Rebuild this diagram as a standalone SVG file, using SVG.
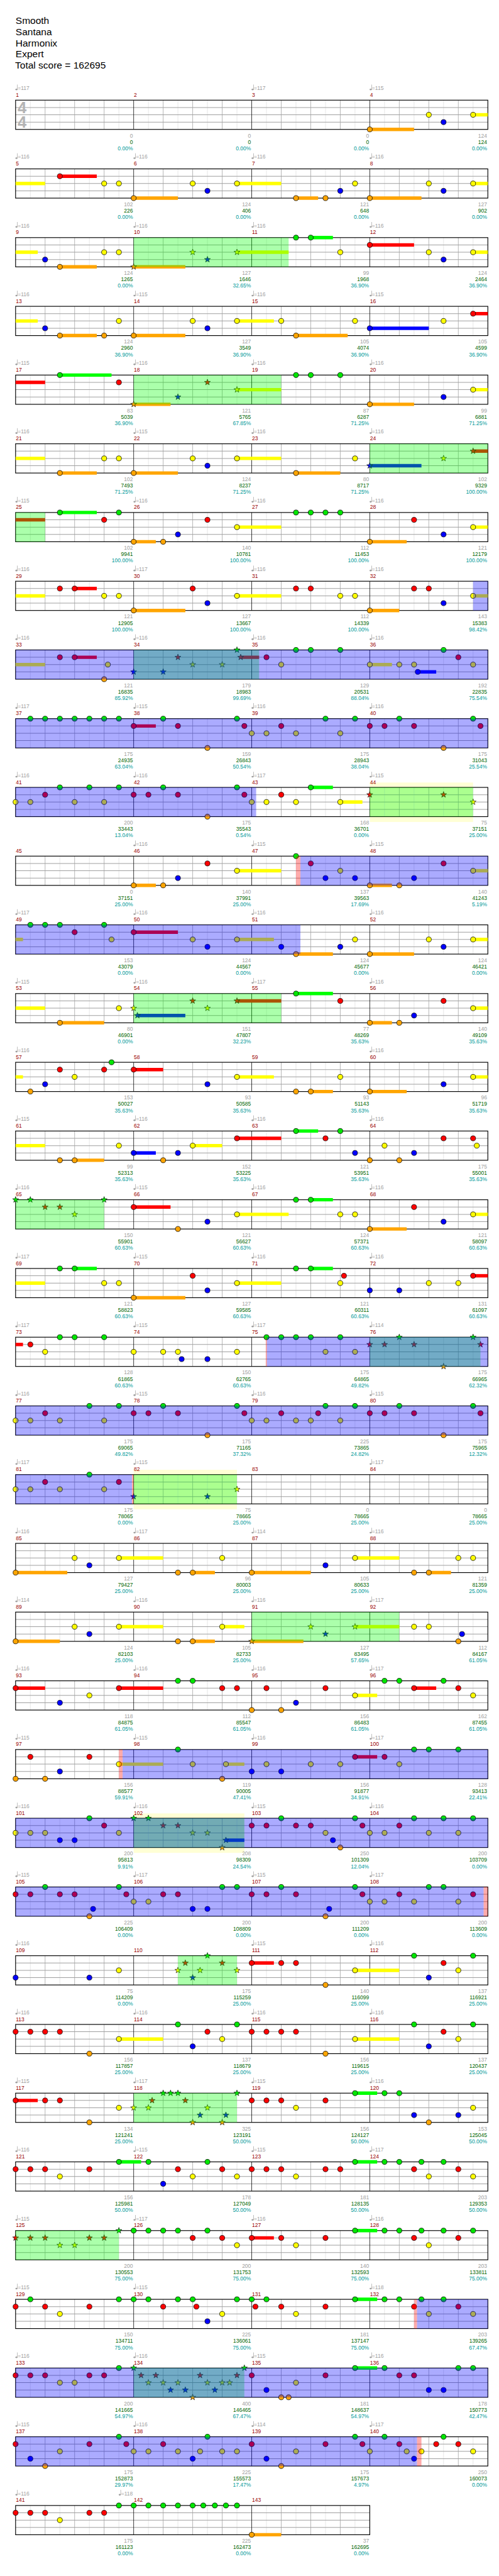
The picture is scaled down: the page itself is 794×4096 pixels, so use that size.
<svg xmlns="http://www.w3.org/2000/svg" xmlns:xlink="http://www.w3.org/1999/xlink" width="794" height="4096" viewBox="0 0 794 4096">
<style>
text{font-family:"Liberation Sans",Arial,sans-serif;font-size:11px}
.h{font-size:20px;fill:#000}
.ts{font-size:33px;font-weight:bold;fill:#b4b4b4}
.t{fill:#a0a0a0}
.m{fill:#900}
.a{fill:#a0a0a0;text-anchor:end}
.b{fill:#060;text-anchor:end}
.c{fill:#099;text-anchor:end}
.zg,.zr,.zy,.zb,.zo{stroke-width:7;fill:none}
.zg{stroke:#0f0}.zr{stroke:#f00}.zy{stroke:#ff0}.zb{stroke:#00f}.zo{stroke:#ffa500}
.sp{fill:#0f0;fill-opacity:.33}
.od{fill:#00f;fill-opacity:.33}
.pk{fill:#f00;fill-opacity:.33}
.hl{fill:#ffffd5}
</style>
<defs>
<circle id="g" cy="0" r="5.2" fill="#00e600" stroke="#000"/>
<circle id="r" cy="15" r="5.2" fill="#f00" stroke="#000"/>
<circle id="y" cy="30" r="5.2" fill="#ff0" stroke="#000"/>
<circle id="b" cy="45" r="5.2" fill="#00f" stroke="#000"/>
<circle id="o" cy="60" r="5.2" fill="#ffa500" stroke="#000"/>
<path id="st" d="M0-6.5L1.53-2.1 6.18-2.01 2.47.8 3.82 5.26 0 2.6-3.82 5.26-2.47.8-6.18-2.01-1.53-2.1Z" stroke="#000" stroke-width=".8"/>
<use id="sg" href="#st" fill="#00e600"/>
<use id="sr" href="#st" y="15" fill="#f00"/>
<use id="sy" href="#st" y="30" fill="#ff0"/>
<use id="sb" href="#st" y="45" fill="#00f"/>
<use id="so" href="#st" y="60" fill="#ffa500"/>
<g id="tn" fill="#a0a0a0"><ellipse cx="1.8" cy="-22" rx="2.2" ry="1.7"/><rect x="3.3" y="-32" width="0.9" height="10"/></g>
<g id="G4">
<path d="M62.3 0V60M122.9 0V60M183.5 0V60M244.1 0V60M304.7 0V60M365.3 0V60M425.9 0V60M486.5 0V60M547.1 0V60M607.7 0V60M668.3 0V60M728.9 0V60M789.5 0V60M850.1 0V60M910.7 0V60M971.3 0V60" stroke="#e0e0e0"/>
<path d="M92.6 0V60M153.2 0V60M213.8 0V60M335 0V60M395.6 0V60M456.2 0V60M577.4 0V60M638 0V60M698.6 0V60M819.8 0V60M880.4 0V60M941 0V60" stroke="#a0a0a0"/>
<path d="M32 15H1001.6M32 30H1001.6M32 45H1001.6" stroke="#a0a0a0" stroke-width="1.3"/>
<path d="M274.4 0V60M516.8 0V60M759.2 0V60" stroke="#000"/>
<rect x="32" width="969.6" height="60" fill="none" stroke="#000" stroke-width="1.5"/>
</g>
<g id="G3">
<path d="M62.3 0V60M122.9 0V60M183.5 0V60M244.1 0V60M304.7 0V60M365.3 0V60M425.9 0V60M486.5 0V60M547.1 0V60M607.7 0V60M668.3 0V60M728.9 0V60" stroke="#e0e0e0"/>
<path d="M92.6 0V60M153.2 0V60M213.8 0V60M335 0V60M395.6 0V60M456.2 0V60M577.4 0V60M638 0V60M698.6 0V60" stroke="#a0a0a0"/>
<path d="M32 15H759.2M32 30H759.2M32 45H759.2" stroke="#a0a0a0" stroke-width="1.3"/>
<path d="M274.4 0V60M516.8 0V60" stroke="#000"/>
<rect x="32" width="727.2" height="60" fill="none" stroke="#000" stroke-width="1.5"/>
</g>
</defs>
<rect width="794" height="4096" fill="#fff"/>
<g transform="scale(0.775)">
<g id="title">
<text class="h" x="32" y="49">Smooth</text>
<text class="h" x="32" y="72">Santana</text>
<text class="h" x="32" y="95">Harmonix</text>
<text class="h" x="32" y="118">Expert</text>
<text class="h" x="31" y="141">Total score = 162695</text>
</g>

<g id="row1" transform="translate(0 205.5)">
<use href="#G4"/>
<text class="ts" x="36" y="26.5">4</text><text class="ts" x="36" y="56.5">4</text>
<path class="zo" d="M759.2 60H850.1"/><path class="zy" d="M971.3 30H1001.6"/>
<use href="#o" x="759.2"/><use href="#y" x="880.4"/><use href="#b" x="910.7"/><use href="#y" x="971.3"/>
<g class="t"><use href="#tn" x="32"/><use href="#tn" x="516.8"/><use href="#tn" x="759.2"/><text y="-21"><tspan x="36.5">=117</tspan><tspan x="521.3">=117</tspan><tspan x="763.7">=115</tspan></text></g>
<text class="m" y="-7"><tspan x="32.5">1</tspan><tspan x="274.9">2</tspan><tspan x="517.3">3</tspan><tspan x="759.7">4</tspan></text>
<text class="a" y="76.5"><tspan x="272.9">0</tspan><tspan x="515.3">0</tspan><tspan x="757.7">0</tspan><tspan x="1000.1">124</tspan></text>
<text class="b" y="89.5"><tspan x="272.9">0</tspan><tspan x="515.3">0</tspan><tspan x="757.7">0</tspan><tspan x="1000.1">124</tspan></text>
<text class="c" y="102.5"><tspan x="272.9">0.00%</tspan><tspan x="515.3">0.00%</tspan><tspan x="757.7">0.00%</tspan><tspan x="1000.1">0.00%</tspan></text>
</g>

<g id="row2" transform="translate(0 346.5)">
<use href="#G4"/>
<path class="zy" d="M32 30H92.6M486.5 30H577.4M971.3 30H1001.6"/><path class="zr" d="M122.9 15H198.7"/><path class="zo" d="M274.4 60H365.3M607.7 60H653.2M759.2 60H865.3"/>
<use href="#r" x="122.9"/><use href="#y" x="213.8"/><use href="#y" x="244.1"/><use href="#o" x="274.4"/><use href="#y" x="395.6"/><use href="#b" x="425.9"/><use href="#y" x="486.5"/><use href="#o" x="607.7"/><use href="#o" x="668.3"/><use href="#b" x="698.6"/><use href="#y" x="728.9"/><use href="#o" x="759.2"/><use href="#y" x="880.4"/><use href="#b" x="910.7"/><use href="#y" x="971.3"/>
<g class="t"><use href="#tn" x="32"/><use href="#tn" x="274.4"/><use href="#tn" x="516.8"/><use href="#tn" x="759.2"/><text y="-21"><tspan x="36.5">=116</tspan><tspan x="278.9">=116</tspan><tspan x="521.3">=116</tspan><tspan x="763.7">=116</tspan></text></g>
<text class="m" y="-7"><tspan x="32.5">5</tspan><tspan x="274.9">6</tspan><tspan x="517.3">7</tspan><tspan x="759.7">8</tspan></text>
<text class="a" y="76.5"><tspan x="272.9">102</tspan><tspan x="515.3">124</tspan><tspan x="757.7">121</tspan><tspan x="1000.1">127</tspan></text>
<text class="b" y="89.5"><tspan x="272.9">226</tspan><tspan x="515.3">406</tspan><tspan x="757.7">648</tspan><tspan x="1000.1">902</tspan></text>
<text class="c" y="102.5"><tspan x="272.9">0.00%</tspan><tspan x="515.3">0.00%</tspan><tspan x="757.7">0.00%</tspan><tspan x="1000.1">0.00%</tspan></text>
</g>

<g id="row3" transform="translate(0 487.5)">
<use href="#G4"/>
<path class="zy" d="M32 30H77.5M486.5 30H592.6M971.3 30H1001.6"/><path class="zo" d="M122.9 60H198.7M274.4 60H380.5"/><path class="zg" d="M638 0H683.5"/><path class="zr" d="M759.2 15H850.1"/>
<use href="#b" x="92.6"/><use href="#o" x="122.9"/><use href="#y" x="213.8"/><use href="#y" x="244.1"/><use href="#so" x="274.4"/><use href="#sy" x="395.6"/><use href="#sb" x="425.9"/><use href="#sy" x="486.5"/><use href="#g" x="607.7"/><use href="#g" x="638"/><use href="#y" x="698.6"/><use href="#r" x="759.2"/><use href="#y" x="880.4"/><use href="#b" x="910.7"/><use href="#y" x="971.3"/>
<rect class="sp" x="274.4" width="318.2" height="60"/>
<g class="t"><use href="#tn" x="32"/><use href="#tn" x="274.4"/><use href="#tn" x="516.8"/><use href="#tn" x="759.2"/><text y="-21"><tspan x="36.5">=116</tspan><tspan x="278.9">=116</tspan><tspan x="521.3">=116</tspan><tspan x="763.7">=116</tspan></text></g>
<text class="m" y="-7"><tspan x="32.5">9</tspan><tspan x="274.9">10</tspan><tspan x="517.3">11</tspan><tspan x="759.7">12</tspan></text>
<text class="a" y="76.5"><tspan x="272.9">124</tspan><tspan x="515.3">127</tspan><tspan x="757.7">99</tspan><tspan x="1000.1">124</tspan></text>
<text class="b" y="89.5"><tspan x="272.9">1265</tspan><tspan x="515.3">1646</tspan><tspan x="757.7">1968</tspan><tspan x="1000.1">2464</tspan></text>
<text class="c" y="102.5"><tspan x="272.9">0.00%</tspan><tspan x="515.3">32.65%</tspan><tspan x="757.7">36.90%</tspan><tspan x="1000.1">36.90%</tspan></text>
</g>

<g id="row4" transform="translate(0 628.5)">
<use href="#G4"/>
<path class="zy" d="M32 30H77.5M486.5 30H562.3"/><path class="zo" d="M122.9 60H198.7M274.4 60H380.5M607.7 60H713.8"/><path class="zb" d="M759.2 45H880.4"/><path class="zr" d="M971.3 15H1001.6"/>
<use href="#b" x="92.6"/><use href="#o" x="122.9"/><use href="#o" x="213.8"/><use href="#y" x="244.1"/><use href="#o" x="274.4"/><use href="#y" x="395.6"/><use href="#b" x="425.9"/><use href="#y" x="486.5"/><use href="#y" x="577.4"/><use href="#o" x="607.7"/><use href="#y" x="728.9"/><use href="#b" x="759.2"/><use href="#y" x="910.7"/><use href="#r" x="971.3"/>
<g class="t"><use href="#tn" x="32"/><use href="#tn" x="274.4"/><use href="#tn" x="516.8"/><use href="#tn" x="759.2"/><text y="-21"><tspan x="36.5">=116</tspan><tspan x="278.9">=115</tspan><tspan x="521.3">=116</tspan><tspan x="763.7">=115</tspan></text></g>
<text class="m" y="-7"><tspan x="32.5">13</tspan><tspan x="274.9">14</tspan><tspan x="517.3">15</tspan><tspan x="759.7">16</tspan></text>
<text class="a" y="76.5"><tspan x="272.9">124</tspan><tspan x="515.3">127</tspan><tspan x="757.7">105</tspan><tspan x="1000.1">105</tspan></text>
<text class="b" y="89.5"><tspan x="272.9">2960</tspan><tspan x="515.3">3549</tspan><tspan x="757.7">4074</tspan><tspan x="1000.1">4599</tspan></text>
<text class="c" y="102.5"><tspan x="272.9">36.90%</tspan><tspan x="515.3">36.90%</tspan><tspan x="757.7">36.90%</tspan><tspan x="1000.1">36.90%</tspan></text>
</g>

<g id="row5" transform="translate(0 769.5)">
<use href="#G4"/>
<path class="zr" d="M32 15H92.6"/><path class="zg" d="M122.9 0H229"/><path class="zo" d="M274.4 60H350.2M759.2 60H850.1"/><path class="zy" d="M486.5 30H577.4M971.3 30H1001.6"/>
<use href="#g" x="122.9"/><use href="#r" x="244.1"/><use href="#so" x="274.4"/><use href="#sb" x="365.3"/><use href="#sr" x="425.9"/><use href="#sy" x="486.5"/><use href="#g" x="607.7"/><use href="#g" x="638"/><use href="#g" x="698.6"/><use href="#o" x="759.2"/><use href="#b" x="910.7"/><use href="#y" x="971.3"/>
<rect class="sp" x="274.4" width="303" height="60"/>
<g class="t"><use href="#tn" x="32"/><use href="#tn" x="274.4"/><use href="#tn" x="516.8"/><use href="#tn" x="759.2"/><text y="-21"><tspan x="36.5">=115</tspan><tspan x="278.9">=116</tspan><tspan x="521.3">=116</tspan><tspan x="763.7">=116</tspan></text></g>
<text class="m" y="-7"><tspan x="32.5">17</tspan><tspan x="274.9">18</tspan><tspan x="517.3">19</tspan><tspan x="759.7">20</tspan></text>
<text class="a" y="76.5"><tspan x="272.9">83</tspan><tspan x="515.3">121</tspan><tspan x="757.7">87</tspan><tspan x="1000.1">99</tspan></text>
<text class="b" y="89.5"><tspan x="272.9">5039</tspan><tspan x="515.3">5765</tspan><tspan x="757.7">6287</tspan><tspan x="1000.1">6881</tspan></text>
<text class="c" y="102.5"><tspan x="272.9">36.90%</tspan><tspan x="515.3">67.85%</tspan><tspan x="757.7">71.25%</tspan><tspan x="1000.1">71.25%</tspan></text>
</g>

<g id="row6" transform="translate(0 910.5)">
<use href="#G4"/>
<path class="zy" d="M32 30H92.6M486.5 30H577.4"/><path class="zo" d="M122.9 60H198.7M274.4 60H365.3M607.7 60H698.6"/><path class="zb" d="M759.2 45H865.3"/><path class="zr" d="M971.3 15H1001.6"/>
<use href="#o" x="122.9"/><use href="#y" x="213.8"/><use href="#y" x="244.1"/><use href="#o" x="274.4"/><use href="#y" x="395.6"/><use href="#b" x="425.9"/><use href="#y" x="486.5"/><use href="#o" x="607.7"/><use href="#y" x="728.9"/><use href="#sb" x="759.2"/><use href="#sy" x="910.7"/><use href="#sr" x="971.3"/>
<rect class="sp" x="759.2" width="242.4" height="60"/>
<g class="t"><use href="#tn" x="32"/><use href="#tn" x="274.4"/><use href="#tn" x="516.8"/><use href="#tn" x="759.2"/><text y="-21"><tspan x="36.5">=116</tspan><tspan x="278.9">=115</tspan><tspan x="521.3">=116</tspan><tspan x="763.7">=116</tspan></text></g>
<text class="m" y="-7"><tspan x="32.5">21</tspan><tspan x="274.9">22</tspan><tspan x="517.3">23</tspan><tspan x="759.7">24</tspan></text>
<text class="a" y="76.5"><tspan x="272.9">102</tspan><tspan x="515.3">124</tspan><tspan x="757.7">80</tspan><tspan x="1000.1">102</tspan></text>
<text class="b" y="89.5"><tspan x="272.9">7493</tspan><tspan x="515.3">8237</tspan><tspan x="757.7">8717</tspan><tspan x="1000.1">9329</tspan></text>
<text class="c" y="102.5"><tspan x="272.9">71.25%</tspan><tspan x="515.3">71.25%</tspan><tspan x="757.7">71.25%</tspan><tspan x="1000.1">100.00%</tspan></text>
</g>

<g id="row7" transform="translate(0 1051.5)">
<use href="#G4"/>
<path class="zr" d="M32 15H92.6"/><path class="zg" d="M122.9 0H198.7"/><path class="zo" d="M274.4 60H319.9M759.2 60H835"/><path class="zy" d="M486.5 30H577.4M971.3 30H1001.6"/>
<use href="#g" x="122.9"/><use href="#r" x="213.8"/><use href="#g" x="244.1"/><use href="#o" x="274.4"/><use href="#o" x="335"/><use href="#b" x="365.3"/><use href="#r" x="425.9"/><use href="#y" x="486.5"/><use href="#g" x="607.7"/><use href="#g" x="638"/><use href="#g" x="668.3"/><use href="#g" x="698.6"/><use href="#o" x="759.2"/><use href="#r" x="850.1"/><use href="#b" x="910.7"/><use href="#y" x="971.3"/>
<rect class="sp" x="32" width="60.6" height="60"/>
<g class="t"><use href="#tn" x="32"/><use href="#tn" x="274.4"/><use href="#tn" x="516.8"/><use href="#tn" x="759.2"/><text y="-21"><tspan x="36.5">=115</tspan><tspan x="278.9">=116</tspan><tspan x="521.3">=116</tspan><tspan x="763.7">=116</tspan></text></g>
<text class="m" y="-7"><tspan x="32.5">25</tspan><tspan x="274.9">26</tspan><tspan x="517.3">27</tspan><tspan x="759.7">28</tspan></text>
<text class="a" y="76.5"><tspan x="272.9">102</tspan><tspan x="515.3">140</tspan><tspan x="757.7">112</tspan><tspan x="1000.1">121</tspan></text>
<text class="b" y="89.5"><tspan x="272.9">9941</tspan><tspan x="515.3">10781</tspan><tspan x="757.7">11453</tspan><tspan x="1000.1">12179</tspan></text>
<text class="c" y="102.5"><tspan x="272.9">100.00%</tspan><tspan x="515.3">100.00%</tspan><tspan x="757.7">100.00%</tspan><tspan x="1000.1">100.00%</tspan></text>
</g>

<g id="row8" transform="translate(0 1192.5)">
<use href="#G4"/>
<path class="zy" d="M32 30H92.6M486.5 30H577.4M971.3 30H1001.6"/><path class="zr" d="M153.2 15H198.7"/><path class="zo" d="M274.4 60H380.5M759.2 60H819.8"/>
<use href="#r" x="122.9"/><use href="#r" x="153.2"/><use href="#y" x="213.8"/><use href="#y" x="244.1"/><use href="#o" x="274.4"/><use href="#r" x="395.6"/><use href="#b" x="425.9"/><use href="#y" x="486.5"/><use href="#r" x="607.7"/><use href="#r" x="638"/><use href="#y" x="698.6"/><use href="#y" x="728.9"/><use href="#o" x="759.2"/><use href="#r" x="850.1"/><use href="#r" x="880.4"/><use href="#b" x="910.7"/><use href="#y" x="971.3"/>
<rect class="od" x="971.3" width="30.3" height="60"/>
<g class="t"><use href="#tn" x="32"/><use href="#tn" x="274.4"/><use href="#tn" x="516.8"/><use href="#tn" x="759.2"/><text y="-21"><tspan x="36.5">=116</tspan><tspan x="278.9">=117</tspan><tspan x="521.3">=116</tspan><tspan x="763.7">=116</tspan></text></g>
<text class="m" y="-7"><tspan x="32.5">29</tspan><tspan x="274.9">30</tspan><tspan x="517.3">31</tspan><tspan x="759.7">32</tspan></text>
<text class="a" y="76.5"><tspan x="272.9">121</tspan><tspan x="515.3">127</tspan><tspan x="757.7">112</tspan><tspan x="1000.1">143</tspan></text>
<text class="b" y="89.5"><tspan x="272.9">12905</tspan><tspan x="515.3">13667</tspan><tspan x="757.7">14339</tspan><tspan x="1000.1">15383</tspan></text>
<text class="c" y="102.5"><tspan x="272.9">100.00%</tspan><tspan x="515.3">100.00%</tspan><tspan x="757.7">100.00%</tspan><tspan x="1000.1">98.42%</tspan></text>
</g>

<g id="row9" transform="translate(0 1333.5)">
<use href="#G4"/>
<path class="zy" d="M32 30H92.6M759.2 30H804.7"/><path class="zr" d="M153.2 15H198.7M494.1 15H532"/><path class="zb" d="M857.7 45H895.6"/>
<use href="#r" x="122.9"/><use href="#r" x="153.2"/><use href="#o" x="213.8"/><use href="#y" x="221.4"/><use href="#sb" x="274.4"/><use href="#sb" x="335"/><use href="#sr" x="365.3"/><use href="#sy" x="395.6"/><use href="#sy" x="456.2"/><use href="#sg" x="486.5"/><use href="#sr" x="494.1"/><use href="#r" x="547.1"/><use href="#y" x="577.4"/><use href="#g" x="607.7"/><use href="#g" x="638"/><use href="#g" x="698.6"/><use href="#y" x="759.2"/><use href="#y" x="819.8"/><use href="#y" x="850.1"/><use href="#b" x="857.7"/><use href="#g" x="910.7"/><use href="#r" x="941"/><use href="#y" x="971.3"/>
<rect class="sp" x="274.4" width="257.6" height="60"/>
<rect class="od" x="32" width="969.6" height="60"/>
<g class="t"><use href="#tn" x="32"/><use href="#tn" x="274.4"/><use href="#tn" x="516.8"/><use href="#tn" x="759.2"/><text y="-21"><tspan x="36.5">=116</tspan><tspan x="278.9">=116</tspan><tspan x="521.3">=116</tspan><tspan x="763.7">=116</tspan></text></g>
<text class="m" y="-7"><tspan x="32.5">33</tspan><tspan x="274.9">34</tspan><tspan x="517.3">35</tspan><tspan x="759.7">36</tspan></text>
<text class="a" y="76.5"><tspan x="272.9">121</tspan><tspan x="515.3">179</tspan><tspan x="757.7">129</tspan><tspan x="1000.1">192</tspan></text>
<text class="b" y="89.5"><tspan x="272.9">16835</tspan><tspan x="515.3">18983</tspan><tspan x="757.7">20531</tspan><tspan x="1000.1">22835</tspan></text>
<text class="c" y="102.5"><tspan x="272.9">85.92%</tspan><tspan x="515.3">99.69%</tspan><tspan x="757.7">88.04%</tspan><tspan x="1000.1">75.54%</tspan></text>
</g>

<g id="row10" transform="translate(0 1474.5)">
<use href="#G4"/>
<path class="zr" d="M274.4 15H319.9"/>
<use href="#g" x="62.3"/><use href="#g" x="92.6"/><use href="#g" x="122.9"/><use href="#g" x="153.2"/><use href="#g" x="183.5"/><use href="#g" x="213.8"/><use href="#g" x="244.1"/><use href="#r" x="274.4"/><use href="#g" x="335"/><use href="#r" x="365.3"/><use href="#o" x="425.9"/><use href="#g" x="486.5"/><use href="#r" x="501.7"/><use href="#y" x="516.8"/><use href="#y" x="547.1"/><use href="#r" x="577.4"/><use href="#y" x="607.7"/><use href="#g" x="668.3"/><use href="#y" x="698.6"/><use href="#g" x="728.9"/><use href="#r" x="759.2"/><use href="#r" x="789.5"/><use href="#g" x="819.8"/><use href="#r" x="850.1"/><use href="#o" x="910.7"/><use href="#g" x="971.3"/><use href="#r" x="986.5"/>
<rect class="od" x="32" width="969.6" height="60"/>
<g class="t"><use href="#tn" x="32"/><use href="#tn" x="274.4"/><use href="#tn" x="516.8"/><use href="#tn" x="759.2"/><text y="-21"><tspan x="36.5">=117</tspan><tspan x="278.9">=115</tspan><tspan x="521.3">=116</tspan><tspan x="763.7">=116</tspan></text></g>
<text class="m" y="-7"><tspan x="32.5">37</tspan><tspan x="274.9">38</tspan><tspan x="517.3">39</tspan><tspan x="759.7">40</tspan></text>
<text class="a" y="76.5"><tspan x="272.9">175</tspan><tspan x="515.3">159</tspan><tspan x="757.7">175</tspan><tspan x="1000.1">175</tspan></text>
<text class="b" y="89.5"><tspan x="272.9">24935</tspan><tspan x="515.3">26843</tspan><tspan x="757.7">28943</tspan><tspan x="1000.1">31043</tspan></text>
<text class="c" y="102.5"><tspan x="272.9">63.04%</tspan><tspan x="515.3">50.54%</tspan><tspan x="757.7">38.04%</tspan><tspan x="1000.1">25.54%</tspan></text>
</g>

<g id="row11" transform="translate(0 1615.5)">
<rect class="hl" x="759.2" y="-10" width="212.1" height="81"/>
<use href="#G4"/>
<path class="zg" d="M638 0H683.5"/><path class="zy" d="M698.6 30H744.1"/>
<use href="#y" x="32"/><use href="#y" x="62.3"/><use href="#r" x="92.6"/><use href="#g" x="122.9"/><use href="#y" x="153.2"/><use href="#g" x="183.5"/><use href="#y" x="213.8"/><use href="#g" x="244.1"/><use href="#r" x="274.4"/><use href="#r" x="304.7"/><use href="#g" x="335"/><use href="#r" x="365.3"/><use href="#o" x="425.9"/><use href="#g" x="486.5"/><use href="#r" x="501.7"/><use href="#y" x="516.8"/><use href="#y" x="547.1"/><use href="#r" x="577.4"/><use href="#y" x="607.7"/><use href="#g" x="638"/><use href="#y" x="698.6"/><use href="#sr" x="759.2"/><use href="#sr" x="910.7"/><use href="#sy" x="971.3"/>
<rect class="sp" x="759.2" width="212.1" height="60"/>
<rect class="od" x="32" width="493.9" height="60"/>
<g class="t"><use href="#tn" x="32"/><use href="#tn" x="274.4"/><use href="#tn" x="516.8"/><use href="#tn" x="759.2"/><text y="-21"><tspan x="36.5">=116</tspan><tspan x="278.9">=116</tspan><tspan x="521.3">=117</tspan><tspan x="763.7">=115</tspan></text></g>
<text class="m" y="-7"><tspan x="32.5">41</tspan><tspan x="274.9">42</tspan><tspan x="517.3">43</tspan><tspan x="759.7">44</tspan></text>
<text class="a" y="76.5"><tspan x="272.9">200</tspan><tspan x="515.3">175</tspan><tspan x="757.7">168</tspan><tspan x="1000.1">75</tspan></text>
<text class="b" y="89.5"><tspan x="272.9">33443</tspan><tspan x="515.3">35543</tspan><tspan x="757.7">36701</tspan><tspan x="1000.1">37151</tspan></text>
<text class="c" y="102.5"><tspan x="272.9">13.04%</tspan><tspan x="515.3">0.54%</tspan><tspan x="757.7">0.00%</tspan><tspan x="1000.1">25.00%</tspan></text>
</g>

<g id="row12" transform="translate(0 1756.5)">
<use href="#G4"/>
<path class="zo" d="M274.4 60H319.9M759.2 60H804.7"/><path class="zy" d="M486.5 30H577.4M971.3 30H1001.6"/>
<use href="#o" x="274.4"/><use href="#o" x="335"/><use href="#b" x="365.3"/><use href="#r" x="425.9"/><use href="#y" x="486.5"/><use href="#g" x="607.7"/><use href="#r" x="638"/><use href="#b" x="668.3"/><use href="#y" x="698.6"/><use href="#b" x="728.9"/><use href="#o" x="759.2"/><use href="#o" x="819.8"/><use href="#b" x="850.1"/><use href="#r" x="910.7"/><use href="#y" x="971.3"/>
<rect class="pk" x="607.7" width="9.1" height="60"/>
<rect class="od" x="616.8" width="384.8" height="60"/>
<g class="t"><use href="#tn" x="274.4"/><use href="#tn" x="516.8"/><use href="#tn" x="759.2"/><text y="-21"><tspan x="278.9">=116</tspan><tspan x="521.3">=115</tspan><tspan x="763.7">=115</tspan></text></g>
<text class="m" y="-7"><tspan x="32.5">45</tspan><tspan x="274.9">46</tspan><tspan x="517.3">47</tspan><tspan x="759.7">48</tspan></text>
<text class="a" y="76.5"><tspan x="272.9">0</tspan><tspan x="515.3">140</tspan><tspan x="757.7">137</tspan><tspan x="1000.1">140</tspan></text>
<text class="b" y="89.5"><tspan x="272.9">37151</tspan><tspan x="515.3">37991</tspan><tspan x="757.7">39563</tspan><tspan x="1000.1">41243</tspan></text>
<text class="c" y="102.5"><tspan x="272.9">25.00%</tspan><tspan x="515.3">25.00%</tspan><tspan x="757.7">17.69%</tspan><tspan x="1000.1">5.19%</tspan></text>
</g>

<g id="row13" transform="translate(0 1897.5)">
<use href="#G4"/>
<path class="zy" d="M32 30H47.2M486.5 30H562.3M971.3 30H1001.6"/><path class="zr" d="M274.4 15H365.3"/><path class="zo" d="M607.7 60H683.5M759.2 60H850.1"/>
<use href="#g" x="62.3"/><use href="#g" x="92.6"/><use href="#g" x="122.9"/><use href="#r" x="153.2"/><use href="#g" x="213.8"/><use href="#y" x="229"/><use href="#r" x="274.4"/><use href="#y" x="395.6"/><use href="#b" x="425.9"/><use href="#y" x="486.5"/><use href="#b" x="577.4"/><use href="#o" x="607.7"/><use href="#b" x="698.6"/><use href="#y" x="728.9"/><use href="#o" x="759.2"/><use href="#y" x="880.4"/><use href="#b" x="910.7"/><use href="#y" x="971.3"/>
<rect class="od" x="32" width="584.8" height="60"/>
<g class="t"><use href="#tn" x="32"/><use href="#tn" x="274.4"/><use href="#tn" x="516.8"/><use href="#tn" x="759.2"/><text y="-21"><tspan x="36.5">=117</tspan><tspan x="278.9">=116</tspan><tspan x="521.3">=116</tspan><tspan x="763.7">=116</tspan></text></g>
<text class="m" y="-7"><tspan x="32.5">49</tspan><tspan x="274.9">50</tspan><tspan x="517.3">51</tspan><tspan x="759.7">52</tspan></text>
<text class="a" y="76.5"><tspan x="272.9">153</tspan><tspan x="515.3">124</tspan><tspan x="757.7">124</tspan><tspan x="1000.1">124</tspan></text>
<text class="b" y="89.5"><tspan x="272.9">43079</tspan><tspan x="515.3">44567</tspan><tspan x="757.7">45677</tspan><tspan x="1000.1">46421</tspan></text>
<text class="c" y="102.5"><tspan x="272.9">0.00%</tspan><tspan x="515.3">0.00%</tspan><tspan x="757.7">0.00%</tspan><tspan x="1000.1">0.00%</tspan></text>
</g>

<g id="row14" transform="translate(0 2038.5)">
<use href="#G4"/>
<path class="zy" d="M32 30H92.6M971.3 30H1001.6"/><path class="zo" d="M122.9 60H213.8M759.2 60H804.7"/><path class="zb" d="M282 45H380.5"/><path class="zr" d="M486.5 15H577.4"/><path class="zg" d="M607.7 0H683.5"/>
<use href="#o" x="122.9"/><use href="#y" x="244.1"/><use href="#sy" x="274.4"/><use href="#sb" x="282"/><use href="#sr" x="395.6"/><use href="#sy" x="425.9"/><use href="#sr" x="486.5"/><use href="#g" x="607.7"/><use href="#r" x="698.6"/><use href="#o" x="759.2"/><use href="#o" x="819.8"/><use href="#b" x="850.1"/><use href="#r" x="910.7"/><use href="#y" x="971.3"/>
<rect class="sp" x="274.4" width="303" height="60"/>
<g class="t"><use href="#tn" x="32"/><use href="#tn" x="274.4"/><use href="#tn" x="516.8"/><use href="#tn" x="759.2"/><text y="-21"><tspan x="36.5">=115</tspan><tspan x="278.9">=116</tspan><tspan x="521.3">=117</tspan><tspan x="763.7">=116</tspan></text></g>
<text class="m" y="-7"><tspan x="32.5">53</tspan><tspan x="274.9">54</tspan><tspan x="517.3">55</tspan><tspan x="759.7">56</tspan></text>
<text class="a" y="76.5"><tspan x="272.9">80</tspan><tspan x="515.3">151</tspan><tspan x="757.7">77</tspan><tspan x="1000.1">140</tspan></text>
<text class="b" y="89.5"><tspan x="272.9">46901</tspan><tspan x="515.3">47807</tspan><tspan x="757.7">48269</tspan><tspan x="1000.1">49109</tspan></text>
<text class="c" y="102.5"><tspan x="272.9">0.00%</tspan><tspan x="515.3">32.23%</tspan><tspan x="757.7">35.63%</tspan><tspan x="1000.1">35.63%</tspan></text>
</g>

<g id="row15" transform="translate(0 2179.5)">
<use href="#G4"/>
<path class="zy" d="M32 30H47.2M486.5 30H562.3M971.3 30H1001.6"/><path class="zr" d="M274.4 15H335"/><path class="zo" d="M638 60H683.5M759.2 60H835"/>
<use href="#o" x="62.3"/><use href="#b" x="92.6"/><use href="#r" x="122.9"/><use href="#y" x="153.2"/><use href="#r" x="213.8"/><use href="#g" x="229"/><use href="#r" x="274.4"/><use href="#b" x="425.9"/><use href="#y" x="486.5"/><use href="#o" x="607.7"/><use href="#o" x="638"/><use href="#y" x="698.6"/><use href="#o" x="759.2"/><use href="#b" x="910.7"/><use href="#y" x="971.3"/>
<g class="t"><use href="#tn" x="32"/><use href="#tn" x="759.2"/><text y="-21"><tspan x="36.5">=116</tspan><tspan x="763.7">=116</tspan></text></g>
<text class="m" y="-7"><tspan x="32.5">57</tspan><tspan x="274.9">58</tspan><tspan x="517.3">59</tspan><tspan x="759.7">60</tspan></text>
<text class="a" y="76.5"><tspan x="272.9">153</tspan><tspan x="515.3">93</tspan><tspan x="757.7">93</tspan><tspan x="1000.1">96</tspan></text>
<text class="b" y="89.5"><tspan x="272.9">50027</tspan><tspan x="515.3">50585</tspan><tspan x="757.7">51143</tspan><tspan x="1000.1">51719</tspan></text>
<text class="c" y="102.5"><tspan x="272.9">35.63%</tspan><tspan x="515.3">35.63%</tspan><tspan x="757.7">35.63%</tspan><tspan x="1000.1">35.63%</tspan></text>
</g>

<g id="row16" transform="translate(0 2320.5)">
<use href="#G4"/>
<path class="zy" d="M32 30H92.6M395.6 30H456.2"/><path class="zo" d="M153.2 60H213.8"/><path class="zb" d="M274.4 45H319.9"/><path class="zr" d="M486.5 15H577.4"/><path class="zg" d="M607.7 0H653.2"/>
<use href="#o" x="122.9"/><use href="#o" x="153.2"/><use href="#y" x="244.1"/><use href="#b" x="274.4"/><use href="#o" x="335"/><use href="#b" x="365.3"/><use href="#y" x="395.6"/><use href="#r" x="486.5"/><use href="#g" x="607.7"/><use href="#r" x="668.3"/><use href="#g" x="698.6"/><use href="#b" x="728.9"/><use href="#o" x="759.2"/><use href="#y" x="789.5"/><use href="#o" x="819.8"/><use href="#b" x="850.1"/><use href="#r" x="910.7"/><use href="#r" x="971.3"/><use href="#y" x="978.9"/>
<g class="t"><use href="#tn" x="32"/><use href="#tn" x="274.4"/><use href="#tn" x="516.8"/><use href="#tn" x="759.2"/><text y="-21"><tspan x="36.5">=115</tspan><tspan x="278.9">=116</tspan><tspan x="521.3">=116</tspan><tspan x="763.7">=116</tspan></text></g>
<text class="m" y="-7"><tspan x="32.5">61</tspan><tspan x="274.9">62</tspan><tspan x="517.3">63</tspan><tspan x="759.7">64</tspan></text>
<text class="a" y="76.5"><tspan x="272.9">99</tspan><tspan x="515.3">152</tspan><tspan x="757.7">121</tspan><tspan x="1000.1">175</tspan></text>
<text class="b" y="89.5"><tspan x="272.9">52313</tspan><tspan x="515.3">53225</tspan><tspan x="757.7">53951</tspan><tspan x="1000.1">55001</tspan></text>
<text class="c" y="102.5"><tspan x="272.9">35.63%</tspan><tspan x="515.3">35.63%</tspan><tspan x="757.7">35.63%</tspan><tspan x="1000.1">35.63%</tspan></text>
</g>

<g id="row17" transform="translate(0 2461.5)">
<use href="#G4"/>
<path class="zr" d="M274.4 15H350.2"/><path class="zy" d="M486.5 30H592.6M971.3 30H1001.6"/><path class="zg" d="M638 0H683.5"/><path class="zo" d="M759.2 60H835"/>
<use href="#sg" x="32"/><use href="#sg" x="62.3"/><use href="#sr" x="92.6"/><use href="#sr" x="122.9"/><use href="#sy" x="153.2"/><use href="#sg" x="213.8"/><use href="#r" x="274.4"/><use href="#o" x="365.3"/><use href="#b" x="425.9"/><use href="#y" x="486.5"/><use href="#g" x="607.7"/><use href="#g" x="638"/><use href="#y" x="698.6"/><use href="#y" x="728.9"/><use href="#o" x="759.2"/><use href="#r" x="850.1"/><use href="#b" x="910.7"/><use href="#y" x="971.3"/>
<rect class="sp" x="32" width="181.8" height="60"/>
<g class="t"><use href="#tn" x="32"/><use href="#tn" x="274.4"/><use href="#tn" x="516.8"/><use href="#tn" x="759.2"/><text y="-21"><tspan x="36.5">=116</tspan><tspan x="278.9">=115</tspan><tspan x="521.3">=116</tspan><tspan x="763.7">=116</tspan></text></g>
<text class="m" y="-7"><tspan x="32.5">65</tspan><tspan x="274.9">66</tspan><tspan x="517.3">67</tspan><tspan x="759.7">68</tspan></text>
<text class="a" y="76.5"><tspan x="272.9">150</tspan><tspan x="515.3">121</tspan><tspan x="757.7">124</tspan><tspan x="1000.1">121</tspan></text>
<text class="b" y="89.5"><tspan x="272.9">55901</tspan><tspan x="515.3">56627</tspan><tspan x="757.7">57371</tspan><tspan x="1000.1">58097</tspan></text>
<text class="c" y="102.5"><tspan x="272.9">60.63%</tspan><tspan x="515.3">60.63%</tspan><tspan x="757.7">60.63%</tspan><tspan x="1000.1">60.63%</tspan></text>
</g>

<g id="row18" transform="translate(0 2602.5)">
<use href="#G4"/>
<path class="zy" d="M32 30H92.6M486.5 30H577.4"/><path class="zg" d="M153.2 0H198.7M638 0H683.5"/><path class="zo" d="M274.4 60H380.5"/><path class="zr" d="M971.3 15H1001.6"/>
<use href="#g" x="122.9"/><use href="#g" x="153.2"/><use href="#y" x="213.8"/><use href="#y" x="244.1"/><use href="#o" x="274.4"/><use href="#r" x="395.6"/><use href="#b" x="425.9"/><use href="#y" x="486.5"/><use href="#g" x="607.7"/><use href="#g" x="638"/><use href="#y" x="698.6"/><use href="#r" x="706.2"/><use href="#b" x="759.2"/><use href="#b" x="819.8"/><use href="#y" x="880.4"/><use href="#y" x="941"/><use href="#r" x="971.3"/>
<g class="t"><use href="#tn" x="32"/><use href="#tn" x="274.4"/><use href="#tn" x="516.8"/><use href="#tn" x="759.2"/><text y="-21"><tspan x="36.5">=117</tspan><tspan x="278.9">=115</tspan><tspan x="521.3">=116</tspan><tspan x="763.7">=116</tspan></text></g>
<text class="m" y="-7"><tspan x="32.5">69</tspan><tspan x="274.9">70</tspan><tspan x="517.3">71</tspan><tspan x="759.7">72</tspan></text>
<text class="a" y="76.5"><tspan x="272.9">121</tspan><tspan x="515.3">127</tspan><tspan x="757.7">121</tspan><tspan x="1000.1">131</tspan></text>
<text class="b" y="89.5"><tspan x="272.9">58823</tspan><tspan x="515.3">59585</tspan><tspan x="757.7">60311</tspan><tspan x="1000.1">61097</tspan></text>
<text class="c" y="102.5"><tspan x="272.9">60.63%</tspan><tspan x="515.3">60.63%</tspan><tspan x="757.7">60.63%</tspan><tspan x="1000.1">60.63%</tspan></text>
</g>

<g id="row19" transform="translate(0 2743.5)">
<use href="#G4"/>
<path class="zr" d="M32 15H47.2"/>
<use href="#r" x="62.3"/><use href="#y" x="92.6"/><use href="#g" x="122.9"/><use href="#g" x="153.2"/><use href="#g" x="213.8"/><use href="#y" x="274.4"/><use href="#y" x="335"/><use href="#y" x="365.3"/><use href="#b" x="372.9"/><use href="#b" x="425.9"/><use href="#y" x="486.5"/><use href="#g" x="547.1"/><use href="#g" x="577.4"/><use href="#g" x="607.7"/><use href="#g" x="638"/><use href="#y" x="668.3"/><use href="#g" x="698.6"/><use href="#y" x="728.9"/><use href="#sr" x="759.2"/><use href="#sr" x="789.5"/><use href="#sg" x="819.8"/><use href="#sr" x="850.1"/><use href="#so" x="910.7"/><use href="#sg" x="971.3"/><use href="#sr" x="986.5"/>
<rect class="sp" x="759.2" width="227.3" height="60"/>
<rect class="pk" x="545.6" width="2.5" height="60"/>
<rect class="od" x="548.1" width="453.5" height="60"/>
<g class="t"><use href="#tn" x="32"/><use href="#tn" x="274.4"/><use href="#tn" x="516.8"/><use href="#tn" x="759.2"/><text y="-21"><tspan x="36.5">=117</tspan><tspan x="278.9">=115</tspan><tspan x="521.3">=117</tspan><tspan x="763.7">=114</tspan></text></g>
<text class="m" y="-7"><tspan x="32.5">73</tspan><tspan x="274.9">74</tspan><tspan x="517.3">75</tspan><tspan x="759.7">76</tspan></text>
<text class="a" y="76.5"><tspan x="272.9">128</tspan><tspan x="515.3">150</tspan><tspan x="757.7">175</tspan><tspan x="1000.1">175</tspan></text>
<text class="b" y="89.5"><tspan x="272.9">61865</tspan><tspan x="515.3">62765</tspan><tspan x="757.7">64865</tspan><tspan x="1000.1">66965</tspan></text>
<text class="c" y="102.5"><tspan x="272.9">60.63%</tspan><tspan x="515.3">60.63%</tspan><tspan x="757.7">49.82%</tspan><tspan x="1000.1">62.32%</tspan></text>
</g>

<g id="row20" transform="translate(0 2884.5)">
<use href="#G4"/>
<use href="#y" x="32"/><use href="#y" x="62.3"/><use href="#r" x="92.6"/><use href="#y" x="122.9"/><use href="#g" x="183.5"/><use href="#y" x="213.8"/><use href="#g" x="244.1"/><use href="#r" x="274.4"/><use href="#r" x="304.7"/><use href="#g" x="335"/><use href="#r" x="365.3"/><use href="#o" x="425.9"/><use href="#g" x="486.5"/><use href="#r" x="501.7"/><use href="#y" x="516.8"/><use href="#y" x="547.1"/><use href="#r" x="577.4"/><use href="#y" x="607.7"/><use href="#y" x="638"/><use href="#r" x="653.2"/><use href="#g" x="668.3"/><use href="#y" x="698.6"/><use href="#g" x="728.9"/><use href="#r" x="759.2"/><use href="#r" x="789.5"/><use href="#g" x="819.8"/><use href="#r" x="850.1"/><use href="#o" x="910.7"/><use href="#g" x="971.3"/><use href="#r" x="986.5"/>
<rect class="od" x="32" width="969.6" height="60"/>
<g class="t"><use href="#tn" x="32"/><use href="#tn" x="274.4"/><use href="#tn" x="516.8"/><use href="#tn" x="759.2"/><text y="-21"><tspan x="36.5">=116</tspan><tspan x="278.9">=115</tspan><tspan x="521.3">=116</tspan><tspan x="763.7">=115</tspan></text></g>
<text class="m" y="-7"><tspan x="32.5">77</tspan><tspan x="274.9">78</tspan><tspan x="517.3">79</tspan><tspan x="759.7">80</tspan></text>
<text class="a" y="76.5"><tspan x="272.9">175</tspan><tspan x="515.3">175</tspan><tspan x="757.7">225</tspan><tspan x="1000.1">175</tspan></text>
<text class="b" y="89.5"><tspan x="272.9">69065</tspan><tspan x="515.3">71165</tspan><tspan x="757.7">73865</tspan><tspan x="1000.1">75965</tspan></text>
<text class="c" y="102.5"><tspan x="272.9">49.82%</tspan><tspan x="515.3">37.32%</tspan><tspan x="757.7">24.82%</tspan><tspan x="1000.1">12.32%</tspan></text>
</g>

<g id="row21" transform="translate(0 3025.5)">
<rect class="hl" x="274.4" y="-10" width="212.1" height="81"/>
<use href="#G4"/>
<use href="#y" x="32"/><use href="#y" x="62.3"/><use href="#r" x="92.6"/><use href="#y" x="122.9"/><use href="#g" x="183.5"/><use href="#y" x="213.8"/><use href="#r" x="244.1"/><use href="#sb" x="274.4"/><use href="#sb" x="425.9"/><use href="#sy" x="486.5"/>
<rect class="sp" x="274.4" width="212.1" height="60"/>
<rect class="od" x="32" width="238.9" height="60"/>
<rect class="pk" x="270.9" width="3.5" height="60"/>
<g class="t"><use href="#tn" x="32"/><use href="#tn" x="274.4"/><use href="#tn" x="759.2"/><text y="-21"><tspan x="36.5">=117</tspan><tspan x="278.9">=115</tspan><tspan x="763.7">=117</tspan></text></g>
<text class="m" y="-7"><tspan x="32.5">81</tspan><tspan x="274.9">82</tspan><tspan x="517.3">83</tspan><tspan x="759.7">84</tspan></text>
<text class="a" y="76.5"><tspan x="272.9">175</tspan><tspan x="515.3">75</tspan><tspan x="757.7">0</tspan><tspan x="1000.1">0</tspan></text>
<text class="b" y="89.5"><tspan x="272.9">78065</tspan><tspan x="515.3">78665</tspan><tspan x="757.7">78665</tspan><tspan x="1000.1">78665</tspan></text>
<text class="c" y="102.5"><tspan x="272.9">0.00%</tspan><tspan x="515.3">25.00%</tspan><tspan x="757.7">25.00%</tspan><tspan x="1000.1">25.00%</tspan></text>
</g>

<g id="row22" transform="translate(0 3166.5)">
<use href="#G4"/>
<path class="zo" d="M32 60H138.1M395.6 60H441.1M516.8 60H638M880.4 60H925.9"/><path class="zy" d="M244.1 30H335M728.9 30H819.8"/>
<use href="#o" x="32"/><use href="#y" x="153.2"/><use href="#b" x="183.5"/><use href="#y" x="244.1"/><use href="#o" x="365.3"/><use href="#o" x="395.6"/><use href="#y" x="456.2"/><use href="#o" x="516.8"/><use href="#b" x="668.3"/><use href="#y" x="728.9"/><use href="#o" x="850.1"/><use href="#o" x="880.4"/><use href="#y" x="941"/><use href="#y" x="971.3"/>
<g class="t"><use href="#tn" x="32"/><use href="#tn" x="274.4"/><use href="#tn" x="516.8"/><use href="#tn" x="759.2"/><text y="-21"><tspan x="36.5">=116</tspan><tspan x="278.9">=117</tspan><tspan x="521.3">=114</tspan><tspan x="763.7">=116</tspan></text></g>
<text class="m" y="-7"><tspan x="32.5">85</tspan><tspan x="274.9">86</tspan><tspan x="517.3">87</tspan><tspan x="759.7">88</tspan></text>
<text class="a" y="76.5"><tspan x="272.9">127</tspan><tspan x="515.3">96</tspan><tspan x="757.7">105</tspan><tspan x="1000.1">121</tspan></text>
<text class="b" y="89.5"><tspan x="272.9">79427</tspan><tspan x="515.3">80003</tspan><tspan x="757.7">80633</tspan><tspan x="1000.1">81359</tspan></text>
<text class="c" y="102.5"><tspan x="272.9">25.00%</tspan><tspan x="515.3">25.00%</tspan><tspan x="757.7">25.00%</tspan><tspan x="1000.1">25.00%</tspan></text>
</g>

<g id="row23" transform="translate(0 3307.5)">
<use href="#G4"/>
<path class="zo" d="M32 60H122.9M395.6 60H441.1M516.8 60H622.9"/><path class="zy" d="M244.1 30H335M456.2 30H501.7M728.9 30H819.8"/>
<use href="#o" x="32"/><use href="#y" x="153.2"/><use href="#b" x="183.5"/><use href="#y" x="244.1"/><use href="#o" x="365.3"/><use href="#o" x="395.6"/><use href="#y" x="456.2"/><use href="#so" x="516.8"/><use href="#sy" x="638"/><use href="#sb" x="668.3"/><use href="#sy" x="728.9"/><use href="#y" x="850.1"/><use href="#y" x="880.4"/><use href="#o" x="941"/><use href="#b" x="948.6"/>
<rect class="sp" x="516.8" width="303" height="60"/>
<g class="t"><use href="#tn" x="32"/><use href="#tn" x="274.4"/><use href="#tn" x="516.8"/><use href="#tn" x="759.2"/><text y="-21"><tspan x="36.5">=114</tspan><tspan x="278.9">=116</tspan><tspan x="521.3">=116</tspan><tspan x="763.7">=117</tspan></text></g>
<text class="m" y="-7"><tspan x="32.5">89</tspan><tspan x="274.9">90</tspan><tspan x="517.3">91</tspan><tspan x="759.7">92</tspan></text>
<text class="a" y="76.5"><tspan x="272.9">124</tspan><tspan x="515.3">105</tspan><tspan x="757.7">127</tspan><tspan x="1000.1">112</tspan></text>
<text class="b" y="89.5"><tspan x="272.9">82103</tspan><tspan x="515.3">82733</tspan><tspan x="757.7">83495</tspan><tspan x="1000.1">84167</tspan></text>
<text class="c" y="102.5"><tspan x="272.9">25.00%</tspan><tspan x="515.3">25.00%</tspan><tspan x="757.7">57.65%</tspan><tspan x="1000.1">61.05%</tspan></text>
</g>

<g id="row24" transform="translate(0 3448.5)">
<use href="#G4"/>
<path class="zr" d="M32 15H92.6M244.1 15H335M850.1 15H895.6"/><path class="zy" d="M728.9 30H774.4"/>
<use href="#r" x="32"/><use href="#b" x="122.9"/><use href="#y" x="183.5"/><use href="#r" x="244.1"/><use href="#g" x="365.3"/><use href="#g" x="395.6"/><use href="#r" x="456.2"/><use href="#r" x="486.5"/><use href="#o" x="516.8"/><use href="#r" x="547.1"/><use href="#o" x="577.4"/><use href="#b" x="607.7"/><use href="#r" x="668.3"/><use href="#y" x="728.9"/><use href="#g" x="789.5"/><use href="#g" x="819.8"/><use href="#r" x="850.1"/><use href="#g" x="910.7"/><use href="#r" x="941"/><use href="#y" x="971.3"/>
<g class="t"><use href="#tn" x="32"/><use href="#tn" x="274.4"/><use href="#tn" x="516.8"/><use href="#tn" x="759.2"/><text y="-21"><tspan x="36.5">=116</tspan><tspan x="278.9">=116</tspan><tspan x="521.3">=116</tspan><tspan x="763.7">=117</tspan></text></g>
<text class="m" y="-7"><tspan x="32.5">93</tspan><tspan x="274.9">94</tspan><tspan x="517.3">95</tspan><tspan x="759.7">96</tspan></text>
<text class="a" y="76.5"><tspan x="272.9">118</tspan><tspan x="515.3">112</tspan><tspan x="757.7">156</tspan><tspan x="1000.1">162</tspan></text>
<text class="b" y="89.5"><tspan x="272.9">84875</tspan><tspan x="515.3">85547</tspan><tspan x="757.7">86483</tspan><tspan x="1000.1">87455</tspan></text>
<text class="c" y="102.5"><tspan x="272.9">61.05%</tspan><tspan x="515.3">61.05%</tspan><tspan x="757.7">61.05%</tspan><tspan x="1000.1">61.05%</tspan></text>
</g>

<g id="row25" transform="translate(0 3589.5)">
<use href="#G4"/>
<path class="zy" d="M244.1 30H335M463.8 30H501.7"/><path class="zr" d="M728.9 15H774.4"/>
<use href="#o" x="32"/><use href="#r" x="62.3"/><use href="#o" x="92.6"/><use href="#b" x="122.9"/><use href="#r" x="183.5"/><use href="#y" x="244.1"/><use href="#g" x="365.3"/><use href="#y" x="395.6"/><use href="#o" x="456.2"/><use href="#y" x="463.8"/><use href="#b" x="516.8"/><use href="#y" x="547.1"/><use href="#b" x="577.4"/><use href="#y" x="638"/><use href="#y" x="698.6"/><use href="#r" x="728.9"/><use href="#r" x="789.5"/><use href="#y" x="819.8"/><use href="#g" x="850.1"/><use href="#g" x="880.4"/><use href="#g" x="941"/>
<rect class="pk" x="244.1" width="7.6" height="60"/>
<rect class="od" x="251.7" width="749.9" height="60"/>
<g class="t"><use href="#tn" x="32"/><use href="#tn" x="274.4"/><use href="#tn" x="516.8"/><use href="#tn" x="759.2"/><text y="-21"><tspan x="36.5">=115</tspan><tspan x="278.9">=115</tspan><tspan x="521.3">=116</tspan><tspan x="763.7">=117</tspan></text></g>
<text class="m" y="-7"><tspan x="32.5">97</tspan><tspan x="274.9">98</tspan><tspan x="517.3">99</tspan><tspan x="759.7">100</tspan></text>
<text class="a" y="76.5"><tspan x="272.9">156</tspan><tspan x="515.3">119</tspan><tspan x="757.7">156</tspan><tspan x="1000.1">128</tspan></text>
<text class="b" y="89.5"><tspan x="272.9">88577</tspan><tspan x="515.3">90005</tspan><tspan x="757.7">91877</tspan><tspan x="1000.1">93413</tspan></text>
<text class="c" y="102.5"><tspan x="272.9">59.91%</tspan><tspan x="515.3">47.41%</tspan><tspan x="757.7">34.91%</tspan><tspan x="1000.1">22.41%</tspan></text>
</g>

<g id="row26" transform="translate(0 3730.5)">
<rect class="hl" x="274.4" y="-10" width="227.3" height="81"/>
<use href="#G4"/>
<path class="zb" d="M463.8 45H501.7"/>
<use href="#y" x="32"/><use href="#y" x="62.3"/><use href="#y" x="92.6"/><use href="#b" x="122.9"/><use href="#b" x="153.2"/><use href="#g" x="183.5"/><use href="#r" x="213.8"/><use href="#y" x="244.1"/><use href="#sg" x="274.4"/><use href="#sg" x="304.7"/><use href="#sr" x="335"/><use href="#sr" x="365.3"/><use href="#sy" x="395.6"/><use href="#sy" x="425.9"/><use href="#so" x="456.2"/><use href="#sb" x="463.8"/><use href="#r" x="516.8"/><use href="#r" x="547.1"/><use href="#g" x="577.4"/><use href="#r" x="607.7"/><use href="#r" x="638"/><use href="#y" x="668.3"/><use href="#b" x="683.5"/><use href="#o" x="698.6"/><use href="#g" x="728.9"/><use href="#r" x="744.1"/><use href="#y" x="759.2"/><use href="#y" x="789.5"/><use href="#r" x="819.8"/><use href="#g" x="850.1"/><use href="#y" x="880.4"/><use href="#g" x="910.7"/><use href="#y" x="941"/><use href="#g" x="971.3"/>
<rect class="sp" x="274.4" width="227.3" height="60"/>
<rect class="od" x="32" width="969.6" height="60"/>
<g class="t"><use href="#tn" x="32"/><use href="#tn" x="274.4"/><use href="#tn" x="516.8"/><use href="#tn" x="759.2"/><text y="-21"><tspan x="36.5">=116</tspan><tspan x="278.9">=116</tspan><tspan x="521.3">=115</tspan><tspan x="763.7">=116</tspan></text></g>
<text class="m" y="-7"><tspan x="32.5">101</tspan><tspan x="274.9">102</tspan><tspan x="517.3">103</tspan><tspan x="759.7">104</tspan></text>
<text class="a" y="76.5"><tspan x="272.9">200</tspan><tspan x="515.3">208</tspan><tspan x="757.7">250</tspan><tspan x="1000.1">200</tspan></text>
<text class="b" y="89.5"><tspan x="272.9">95813</tspan><tspan x="515.3">98309</tspan><tspan x="757.7">101309</tspan><tspan x="1000.1">103709</tspan></text>
<text class="c" y="102.5"><tspan x="272.9">9.91%</tspan><tspan x="515.3">24.54%</tspan><tspan x="757.7">12.04%</tspan><tspan x="1000.1">0.00%</tspan></text>
</g>

<g id="row27" transform="translate(0 3871.5)">
<use href="#G4"/>
<use href="#r" x="32"/><use href="#r" x="62.3"/><use href="#g" x="92.6"/><use href="#r" x="122.9"/><use href="#r" x="153.2"/><use href="#o" x="183.5"/><use href="#b" x="191.1"/><use href="#g" x="244.1"/><use href="#r" x="259.3"/><use href="#y" x="274.4"/><use href="#y" x="304.7"/><use href="#r" x="335"/><use href="#r" x="365.3"/><use href="#b" x="395.6"/><use href="#b" x="425.9"/><use href="#g" x="456.2"/><use href="#g" x="486.5"/><use href="#r" x="516.8"/><use href="#r" x="547.1"/><use href="#g" x="577.4"/><use href="#r" x="607.7"/><use href="#o" x="668.3"/><use href="#b" x="675.9"/><use href="#g" x="728.9"/><use href="#r" x="744.1"/><use href="#y" x="759.2"/><use href="#y" x="789.5"/><use href="#r" x="819.8"/><use href="#y" x="850.1"/><use href="#g" x="880.4"/><use href="#g" x="910.7"/><use href="#y" x="941"/><use href="#r" x="971.3"/>
<rect class="od" x="32" width="961" height="60"/>
<rect class="pk" x="993" width="8.6" height="60"/>
<g class="t"><use href="#tn" x="32"/><use href="#tn" x="274.4"/><use href="#tn" x="516.8"/><use href="#tn" x="759.2"/><text y="-21"><tspan x="36.5">=115</tspan><tspan x="278.9">=117</tspan><tspan x="521.3">=115</tspan><tspan x="763.7">=117</tspan></text></g>
<text class="m" y="-7"><tspan x="32.5">105</tspan><tspan x="274.9">106</tspan><tspan x="517.3">107</tspan><tspan x="759.7">108</tspan></text>
<text class="a" y="76.5"><tspan x="272.9">225</tspan><tspan x="515.3">200</tspan><tspan x="757.7">200</tspan><tspan x="1000.1">200</tspan></text>
<text class="b" y="89.5"><tspan x="272.9">106409</tspan><tspan x="515.3">108809</tspan><tspan x="757.7">111209</tspan><tspan x="1000.1">113609</tspan></text>
<text class="c" y="102.5"><tspan x="272.9">0.00%</tspan><tspan x="515.3">0.00%</tspan><tspan x="757.7">0.00%</tspan><tspan x="1000.1">0.00%</tspan></text>
</g>

<g id="row28" transform="translate(0 4012.5)">
<use href="#G4"/>
<path class="zr" d="M516.8 15H562.3"/><path class="zy" d="M728.9 30H819.8"/>
<use href="#b" x="32"/><use href="#b" x="183.5"/><use href="#y" x="244.1"/><use href="#sy" x="365.3"/><use href="#sr" x="380.5"/><use href="#sb" x="395.6"/><use href="#sy" x="410.8"/><use href="#sg" x="425.9"/><use href="#sr" x="456.2"/><use href="#sy" x="486.5"/><use href="#r" x="516.8"/><use href="#r" x="577.4"/><use href="#r" x="607.7"/><use href="#o" x="668.3"/><use href="#y" x="728.9"/><use href="#g" x="850.1"/><use href="#b" x="880.4"/><use href="#r" x="910.7"/><use href="#y" x="941"/><use href="#g" x="971.3"/>
<rect class="sp" x="365.3" width="121.2" height="60"/>
<g class="t"><use href="#tn" x="32"/><use href="#tn" x="516.8"/><use href="#tn" x="759.2"/><text y="-21"><tspan x="36.5">=116</tspan><tspan x="521.3">=115</tspan><tspan x="763.7">=116</tspan></text></g>
<text class="m" y="-7"><tspan x="32.5">109</tspan><tspan x="274.9">110</tspan><tspan x="517.3">111</tspan><tspan x="759.7">112</tspan></text>
<text class="a" y="76.5"><tspan x="272.9">75</tspan><tspan x="515.3">175</tspan><tspan x="757.7">140</tspan><tspan x="1000.1">137</tspan></text>
<text class="b" y="89.5"><tspan x="272.9">114209</tspan><tspan x="515.3">115259</tspan><tspan x="757.7">116099</tspan><tspan x="1000.1">116921</tspan></text>
<text class="c" y="102.5"><tspan x="272.9">0.00%</tspan><tspan x="515.3">25.00%</tspan><tspan x="757.7">25.00%</tspan><tspan x="1000.1">25.00%</tspan></text>
</g>

<g id="row29" transform="translate(0 4153.5)">
<use href="#G4"/>
<path class="zy" d="M244.1 30H335M728.9 30H819.8"/>
<use href="#r" x="32"/><use href="#r" x="62.3"/><use href="#r" x="92.6"/><use href="#r" x="122.9"/><use href="#o" x="183.5"/><use href="#y" x="244.1"/><use href="#g" x="365.3"/><use href="#b" x="395.6"/><use href="#r" x="425.9"/><use href="#y" x="456.2"/><use href="#g" x="486.5"/><use href="#r" x="516.8"/><use href="#r" x="547.1"/><use href="#r" x="577.4"/><use href="#r" x="607.7"/><use href="#o" x="668.3"/><use href="#y" x="728.9"/><use href="#g" x="850.1"/><use href="#b" x="880.4"/><use href="#r" x="910.7"/><use href="#y" x="941"/><use href="#g" x="971.3"/>
<g class="t"><use href="#tn" x="32"/><use href="#tn" x="274.4"/><use href="#tn" x="516.8"/><use href="#tn" x="759.2"/><text y="-21"><tspan x="36.5">=116</tspan><tspan x="278.9">=116</tspan><tspan x="521.3">=116</tspan><tspan x="763.7">=116</tspan></text></g>
<text class="m" y="-7"><tspan x="32.5">113</tspan><tspan x="274.9">114</tspan><tspan x="517.3">115</tspan><tspan x="759.7">116</tspan></text>
<text class="a" y="76.5"><tspan x="272.9">156</tspan><tspan x="515.3">137</tspan><tspan x="757.7">156</tspan><tspan x="1000.1">137</tspan></text>
<text class="b" y="89.5"><tspan x="272.9">117857</tspan><tspan x="515.3">118679</tspan><tspan x="757.7">119615</tspan><tspan x="1000.1">120437</tspan></text>
<text class="c" y="102.5"><tspan x="272.9">25.00%</tspan><tspan x="515.3">25.00%</tspan><tspan x="757.7">25.00%</tspan><tspan x="1000.1">25.00%</tspan></text>
</g>

<g id="row30" transform="translate(0 4294.5)">
<use href="#G4"/>
<path class="zr" d="M32 15H77.5"/><path class="zg" d="M728.9 0H774.4"/>
<use href="#r" x="32"/><use href="#r" x="92.6"/><use href="#r" x="122.9"/><use href="#o" x="183.5"/><use href="#y" x="244.1"/><use href="#sy" x="274.4"/><use href="#sy" x="304.7"/><use href="#sr" x="312.3"/><use href="#sg" x="335"/><use href="#sg" x="350.2"/><use href="#sg" x="365.3"/><use href="#sr" x="380.5"/><use href="#so" x="395.6"/><use href="#sb" x="410.8"/><use href="#sy" x="425.9"/><use href="#so" x="456.2"/><use href="#sb" x="463.8"/><use href="#sg" x="486.5"/><use href="#r" x="516.8"/><use href="#r" x="547.1"/><use href="#r" x="577.4"/><use href="#y" x="607.7"/><use href="#r" x="668.3"/><use href="#g" x="728.9"/><use href="#g" x="789.5"/><use href="#g" x="819.8"/><use href="#b" x="850.1"/><use href="#o" x="880.4"/><use href="#b" x="941"/><use href="#y" x="971.3"/>
<rect class="sp" x="274.4" width="212.1" height="60"/>
<g class="t"><use href="#tn" x="32"/><use href="#tn" x="274.4"/><use href="#tn" x="516.8"/><use href="#tn" x="759.2"/><text y="-21"><tspan x="36.5">=115</tspan><tspan x="278.9">=117</tspan><tspan x="521.3">=115</tspan><tspan x="763.7">=116</tspan></text></g>
<text class="m" y="-7"><tspan x="32.5">117</tspan><tspan x="274.9">118</tspan><tspan x="517.3">119</tspan><tspan x="759.7">120</tspan></text>
<text class="a" y="76.5"><tspan x="272.9">134</tspan><tspan x="515.3">325</tspan><tspan x="757.7">156</tspan><tspan x="1000.1">153</tspan></text>
<text class="b" y="89.5"><tspan x="272.9">121241</tspan><tspan x="515.3">123191</tspan><tspan x="757.7">124127</tspan><tspan x="1000.1">125045</tspan></text>
<text class="c" y="102.5"><tspan x="272.9">25.00%</tspan><tspan x="515.3">50.00%</tspan><tspan x="757.7">50.00%</tspan><tspan x="1000.1">50.00%</tspan></text>
</g>

<g id="row31" transform="translate(0 4435.5)">
<use href="#G4"/>
<path class="zg" d="M244.1 0H289.6M728.9 0H774.4"/>
<use href="#r" x="32"/><use href="#r" x="62.3"/><use href="#r" x="92.6"/><use href="#y" x="122.9"/><use href="#r" x="183.5"/><use href="#g" x="244.1"/><use href="#g" x="304.7"/><use href="#b" x="335"/><use href="#r" x="365.3"/><use href="#y" x="395.6"/><use href="#g" x="425.9"/><use href="#r" x="456.2"/><use href="#y" x="486.5"/><use href="#r" x="516.8"/><use href="#r" x="547.1"/><use href="#r" x="577.4"/><use href="#y" x="607.7"/><use href="#r" x="668.3"/><use href="#r" x="698.6"/><use href="#g" x="728.9"/><use href="#g" x="789.5"/><use href="#g" x="819.8"/><use href="#r" x="850.1"/><use href="#g" x="865.3"/><use href="#y" x="880.4"/><use href="#g" x="910.7"/><use href="#r" x="941"/><use href="#y" x="971.3"/>
<g class="t"><use href="#tn" x="32"/><use href="#tn" x="274.4"/><use href="#tn" x="516.8"/><use href="#tn" x="759.2"/><text y="-21"><tspan x="36.5">=116</tspan><tspan x="278.9">=115</tspan><tspan x="521.3">=115</tspan><tspan x="763.7">=117</tspan></text></g>
<text class="m" y="-7"><tspan x="32.5">121</tspan><tspan x="274.9">122</tspan><tspan x="517.3">123</tspan><tspan x="759.7">124</tspan></text>
<text class="a" y="76.5"><tspan x="272.9">156</tspan><tspan x="515.3">178</tspan><tspan x="757.7">181</tspan><tspan x="1000.1">203</tspan></text>
<text class="b" y="89.5"><tspan x="272.9">125981</tspan><tspan x="515.3">127049</tspan><tspan x="757.7">128135</tspan><tspan x="1000.1">129353</tspan></text>
<text class="c" y="102.5"><tspan x="272.9">50.00%</tspan><tspan x="515.3">50.00%</tspan><tspan x="757.7">50.00%</tspan><tspan x="1000.1">50.00%</tspan></text>
</g>

<g id="row32" transform="translate(0 4576.5)">
<use href="#G4"/>
<path class="zr" d="M516.8 15H562.3"/><path class="zg" d="M728.9 0H774.4"/>
<use href="#sr" x="32"/><use href="#sr" x="62.3"/><use href="#sr" x="92.6"/><use href="#sy" x="122.9"/><use href="#sy" x="153.2"/><use href="#sr" x="183.5"/><use href="#sr" x="213.8"/><use href="#sg" x="244.1"/><use href="#g" x="274.4"/><use href="#g" x="304.7"/><use href="#g" x="335"/><use href="#g" x="365.3"/><use href="#r" x="395.6"/><use href="#g" x="425.9"/><use href="#r" x="456.2"/><use href="#y" x="486.5"/><use href="#r" x="516.8"/><use href="#r" x="577.4"/><use href="#y" x="607.7"/><use href="#r" x="668.3"/><use href="#g" x="728.9"/><use href="#g" x="789.5"/><use href="#g" x="819.8"/><use href="#r" x="850.1"/><use href="#g" x="865.3"/><use href="#y" x="880.4"/><use href="#g" x="910.7"/><use href="#r" x="941"/><use href="#g" x="971.3"/>
<rect class="sp" x="32" width="212.1" height="60"/>
<g class="t"><use href="#tn" x="32"/><use href="#tn" x="274.4"/><use href="#tn" x="516.8"/><use href="#tn" x="759.2"/><text y="-21"><tspan x="36.5">=115</tspan><tspan x="278.9">=117</tspan><tspan x="521.3">=116</tspan><tspan x="763.7">=116</tspan></text></g>
<text class="m" y="-7"><tspan x="32.5">125</tspan><tspan x="274.9">126</tspan><tspan x="517.3">127</tspan><tspan x="759.7">128</tspan></text>
<text class="a" y="76.5"><tspan x="272.9">200</tspan><tspan x="515.3">200</tspan><tspan x="757.7">140</tspan><tspan x="1000.1">203</tspan></text>
<text class="b" y="89.5"><tspan x="272.9">130553</tspan><tspan x="515.3">131753</tspan><tspan x="757.7">132593</tspan><tspan x="1000.1">133811</tspan></text>
<text class="c" y="102.5"><tspan x="272.9">75.00%</tspan><tspan x="515.3">75.00%</tspan><tspan x="757.7">75.00%</tspan><tspan x="1000.1">75.00%</tspan></text>
</g>

<g id="row33" transform="translate(0 4717.5)">
<use href="#G4"/>
<path class="zg" d="M728.9 0H774.4"/>
<use href="#r" x="32"/><use href="#g" x="62.3"/><use href="#r" x="92.6"/><use href="#y" x="122.9"/><use href="#r" x="183.5"/><use href="#g" x="244.1"/><use href="#g" x="274.4"/><use href="#g" x="304.7"/><use href="#r" x="335"/><use href="#g" x="365.3"/><use href="#g" x="395.6"/><use href="#r" x="403.2"/><use href="#b" x="425.9"/><use href="#y" x="456.2"/><use href="#g" x="486.5"/><use href="#g" x="516.8"/><use href="#r" x="524.4"/><use href="#g" x="547.1"/><use href="#r" x="577.4"/><use href="#y" x="607.7"/><use href="#r" x="668.3"/><use href="#g" x="728.9"/><use href="#g" x="789.5"/><use href="#g" x="819.8"/><use href="#r" x="850.1"/><use href="#g" x="865.3"/><use href="#y" x="880.4"/><use href="#g" x="910.7"/><use href="#r" x="941"/><use href="#y" x="971.3"/>
<rect class="pk" x="850.1" width="6.1" height="60"/>
<rect class="od" x="856.2" width="145.4" height="60"/>
<g class="t"><use href="#tn" x="32"/><use href="#tn" x="274.4"/><use href="#tn" x="759.2"/><text y="-21"><tspan x="36.5">=115</tspan><tspan x="278.9">=115</tspan><tspan x="763.7">=118</tspan></text></g>
<text class="m" y="-7"><tspan x="32.5">129</tspan><tspan x="274.9">130</tspan><tspan x="517.3">131</tspan><tspan x="759.7">132</tspan></text>
<text class="a" y="76.5"><tspan x="272.9">150</tspan><tspan x="515.3">225</tspan><tspan x="757.7">181</tspan><tspan x="1000.1">203</tspan></text>
<text class="b" y="89.5"><tspan x="272.9">134711</tspan><tspan x="515.3">136061</tspan><tspan x="757.7">137147</tspan><tspan x="1000.1">139265</tspan></text>
<text class="c" y="102.5"><tspan x="272.9">75.00%</tspan><tspan x="515.3">75.00%</tspan><tspan x="757.7">75.00%</tspan><tspan x="1000.1">67.47%</tspan></text>
</g>

<g id="row34" transform="translate(0 4858.5)">
<use href="#G4"/>
<path class="zg" d="M728.9 0H774.4"/>
<use href="#r" x="32"/><use href="#r" x="62.3"/><use href="#r" x="92.6"/><use href="#y" x="122.9"/><use href="#y" x="153.2"/><use href="#r" x="183.5"/><use href="#r" x="213.8"/><use href="#g" x="244.1"/><use href="#sg" x="274.4"/><use href="#sr" x="289.6"/><use href="#sy" x="304.7"/><use href="#sr" x="319.9"/><use href="#sy" x="335"/><use href="#sb" x="350.2"/><use href="#sy" x="365.3"/><use href="#sb" x="380.5"/><use href="#so" x="395.6"/><use href="#sr" x="410.8"/><use href="#sy" x="425.9"/><use href="#sb" x="441.1"/><use href="#sy" x="456.2"/><use href="#sy" x="471.4"/><use href="#sr" x="486.5"/><use href="#sg" x="501.7"/><use href="#r" x="516.8"/><use href="#b" x="547.1"/><use href="#o" x="577.4"/><use href="#o" x="592.6"/><use href="#y" x="607.7"/><use href="#r" x="668.3"/><use href="#g" x="728.9"/><use href="#g" x="789.5"/><use href="#r" x="819.8"/><use href="#r" x="850.1"/><use href="#b" x="880.4"/><use href="#b" x="910.7"/><use href="#g" x="941"/><use href="#g" x="971.3"/>
<rect class="sp" x="274.4" width="227.3" height="60"/>
<rect class="od" x="32" width="969.6" height="60"/>
<g class="t"><use href="#tn" x="32"/><use href="#tn" x="274.4"/><use href="#tn" x="516.8"/><use href="#tn" x="759.2"/><text y="-21"><tspan x="36.5">=116</tspan><tspan x="278.9">=116</tspan><tspan x="521.3">=115</tspan><tspan x="763.7">=116</tspan></text></g>
<text class="m" y="-7"><tspan x="32.5">133</tspan><tspan x="274.9">134</tspan><tspan x="517.3">135</tspan><tspan x="759.7">136</tspan></text>
<text class="a" y="76.5"><tspan x="272.9">200</tspan><tspan x="515.3">400</tspan><tspan x="757.7">181</tspan><tspan x="1000.1">178</tspan></text>
<text class="b" y="89.5"><tspan x="272.9">141665</tspan><tspan x="515.3">146465</tspan><tspan x="757.7">148637</tspan><tspan x="1000.1">150773</tspan></text>
<text class="c" y="102.5"><tspan x="272.9">54.97%</tspan><tspan x="515.3">67.47%</tspan><tspan x="757.7">54.97%</tspan><tspan x="1000.1">42.47%</tspan></text>
</g>

<g id="row35" transform="translate(0 4999.5)">
<use href="#G4"/>
<use href="#r" x="32"/><use href="#b" x="62.3"/><use href="#o" x="92.6"/><use href="#y" x="122.9"/><use href="#r" x="183.5"/><use href="#g" x="244.1"/><use href="#r" x="259.3"/><use href="#y" x="274.4"/><use href="#y" x="304.7"/><use href="#r" x="335"/><use href="#y" x="365.3"/><use href="#b" x="395.6"/><use href="#y" x="410.8"/><use href="#g" x="425.9"/><use href="#y" x="456.2"/><use href="#y" x="486.5"/><use href="#r" x="516.8"/><use href="#b" x="547.1"/><use href="#o" x="577.4"/><use href="#y" x="607.7"/><use href="#r" x="668.3"/><use href="#g" x="728.9"/><use href="#r" x="744.1"/><use href="#y" x="759.2"/><use href="#g" x="789.5"/><use href="#r" x="819.8"/><use href="#y" x="835"/><use href="#b" x="850.1"/><use href="#y" x="865.3"/><use href="#r" x="895.6"/><use href="#g" x="910.7"/><use href="#r" x="941"/><use href="#y" x="971.3"/>
<rect class="od" x="32" width="824.2" height="60"/>
<rect class="pk" x="856.2" width="9.1" height="60"/>
<g class="t"><use href="#tn" x="32"/><use href="#tn" x="274.4"/><use href="#tn" x="516.8"/><use href="#tn" x="759.2"/><text y="-21"><tspan x="36.5">=115</tspan><tspan x="278.9">=116</tspan><tspan x="521.3">=114</tspan><tspan x="763.7">=117</tspan></text></g>
<text class="m" y="-7"><tspan x="32.5">137</tspan><tspan x="274.9">138</tspan><tspan x="517.3">139</tspan><tspan x="759.7">140</tspan></text>
<text class="a" y="76.5"><tspan x="272.9">175</tspan><tspan x="515.3">225</tspan><tspan x="757.7">175</tspan><tspan x="1000.1">250</tspan></text>
<text class="b" y="89.5"><tspan x="272.9">152873</tspan><tspan x="515.3">155573</tspan><tspan x="757.7">157673</tspan><tspan x="1000.1">160073</tspan></text>
<text class="c" y="102.5"><tspan x="272.9">29.97%</tspan><tspan x="515.3">17.47%</tspan><tspan x="757.7">4.97%</tspan><tspan x="1000.1">0.00%</tspan></text>
</g>

<g id="row36" transform="translate(0 5140.5)">
<use href="#G3"/>
<path class="zo" d="M516.8 60H577.4"/>
<use href="#r" x="32"/><use href="#r" x="62.3"/><use href="#r" x="92.6"/><use href="#y" x="122.9"/><use href="#r" x="183.5"/><use href="#r" x="213.8"/><use href="#g" x="244.1"/><use href="#g" x="274.4"/><use href="#g" x="304.7"/><use href="#g" x="335"/><use href="#g" x="365.3"/><use href="#g" x="395.6"/><use href="#g" x="417.4"/><use href="#g" x="441.1"/><use href="#g" x="463.8"/><use href="#g" x="486.5"/><use href="#o" x="516.8"/>
<g class="t"><use href="#tn" x="32"/><use href="#tn" x="244.1"/><text y="-21"><tspan x="36.5">=116</tspan><tspan x="248.6">=118</tspan></text></g>
<text class="m" y="-7"><tspan x="32.5">141</tspan><tspan x="274.9">142</tspan><tspan x="517.3">143</tspan></text>
<text class="a" y="76.5"><tspan x="272.9">175</tspan><tspan x="515.3">225</tspan><tspan x="757.7">37</tspan></text>
<text class="b" y="89.5"><tspan x="272.9">161123</tspan><tspan x="515.3">162473</tspan><tspan x="757.7">162695</tspan></text>
<text class="c" y="102.5"><tspan x="272.9">0.00%</tspan><tspan x="515.3">0.00%</tspan><tspan x="757.7">0.00%</tspan></text>
</g>
</g>
</svg>
